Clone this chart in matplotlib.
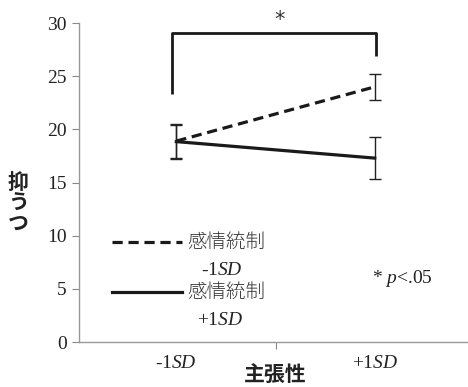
import matplotlib
matplotlib.use("Agg")
import matplotlib.pyplot as plt
from matplotlib.lines import Line2D

plt.rcParams['mathtext.fontset'] = 'custom'
plt.rcParams['mathtext.rm'] = 'Liberation Serif'
plt.rcParams['mathtext.it'] = 'Liberation Serif:italic'

categories = ["-1$\\it{SD}$", "+1$\\it{SD}$"]
low_means = [18.9, 24.0]      # 感情統制 -1SD (dashed)
low_err = [1.6, 1.25]
high_means = [18.85, 17.3]    # 感情統制 +1SD (solid)
high_err = [1.6, 1.95]
yticks = [0, 5, 10, 15, 20, 25, 30]
legend_labels = ["感情統制", "感情統制"]
legend_sub = ["-1$\\it{SD}$", "+1$\\it{SD}$"]

jp = ['Noto Sans CJK JP', 'DejaVu Sans']
serif = 'Liberation Serif'

fig = plt.figure(figsize=(4.68, 3.87), dpi=100)
ax = fig.add_axes([0.169, 0.116, 0.831, 0.8245])

x = list(range(len(categories)))
ax.errorbar(x, high_means, yerr=high_err, color='#1a1a1a', lw=2.3,
            ecolor='#222222', elinewidth=1.0, capsize=4.5, capthick=1.0)
ax.errorbar(x, low_means, yerr=low_err, color='#1a1a1a', lw=2.3,
            linestyle=(0, (3.2, 1.8)),
            ecolor='#222222', elinewidth=1.0, capsize=4.5, capthick=1.0)

ax.set_xlim(-0.49, 1.47)
ax.set_ylim(0, 30)
ax.set_yticks(yticks)
ax.set_yticklabels([str(t) for t in yticks], fontfamily=serif, fontsize=14, color='#222222')
ax.set_xticks([0.5], minor=False)
ax.set_xticklabels([""])
ax.set_xticks(x, minor=True)
ax.set_xticklabels(categories, minor=True, fontfamily=serif, fontsize=14, color='#222222')
ax.tick_params(axis='x', which='minor', length=0, pad=9)
ax.tick_params(axis='x', which='major', length=5, color='#888888', direction='out')
ax.tick_params(axis='y', length=5, color='#888888', direction='out', pad=4)

for s in ['top', 'right']:
    ax.spines[s].set_visible(False)
for s in ['left', 'bottom']:
    ax.spines[s].set_color('#999999')
    ax.spines[s].set_linewidth(1.0)

# significance bracket
ax.plot([-0.02, -0.02, 1.005, 1.005], [23.3, 29.1, 29.1, 26.9], color='#1a1a1a',
        lw=2.0, clip_on=False, solid_capstyle='butt')
ax.text(0.52, 29.35, '*', ha='center', va='bottom', fontsize=15, color='#333333',
        fontfamily='DejaVu Sans', clip_on=False)

# legend (manual)
ys = [0.313, 0.157]
styles = [(0, (3.2, 1.8)), '-']
for yy, st, lab, sub in zip(ys, styles, legend_labels, legend_sub):
    ax.add_line(Line2D([0.085, 0.265], [yy, yy], transform=ax.transAxes,
                       color='#1a1a1a', lw=2.3, linestyle=st))
    ax.text(0.278, yy, lab, transform=ax.transAxes, ha='left', va='center',
            fontfamily=jp, fontsize=14, color='#333333', fontweight='light')
    ax.text(0.421, yy - 0.088, sub, transform=ax.transAxes, ha='right', va='center',
            fontfamily=serif, fontsize=14, color='#222222')

ax.text(0.753, 0.2, '* $\\it{p}$<.05', transform=ax.transAxes, ha='left', va='center',
        fontfamily=serif, fontsize=14, color='#222222')

ax.set_xlabel('主張性', fontfamily=jp, fontsize=15, fontweight='bold', color='#222222',
              labelpad=0)
ax.xaxis.set_label_coords(0.505, -0.07)

fig.text(0.039, 0.555, '抑\nう\nつ', ha='center', va='top', fontfamily=jp,
         fontsize=15, fontweight='bold', color='#222222', linespacing=0.95)

fig.savefig('out.png', dpi=100)
